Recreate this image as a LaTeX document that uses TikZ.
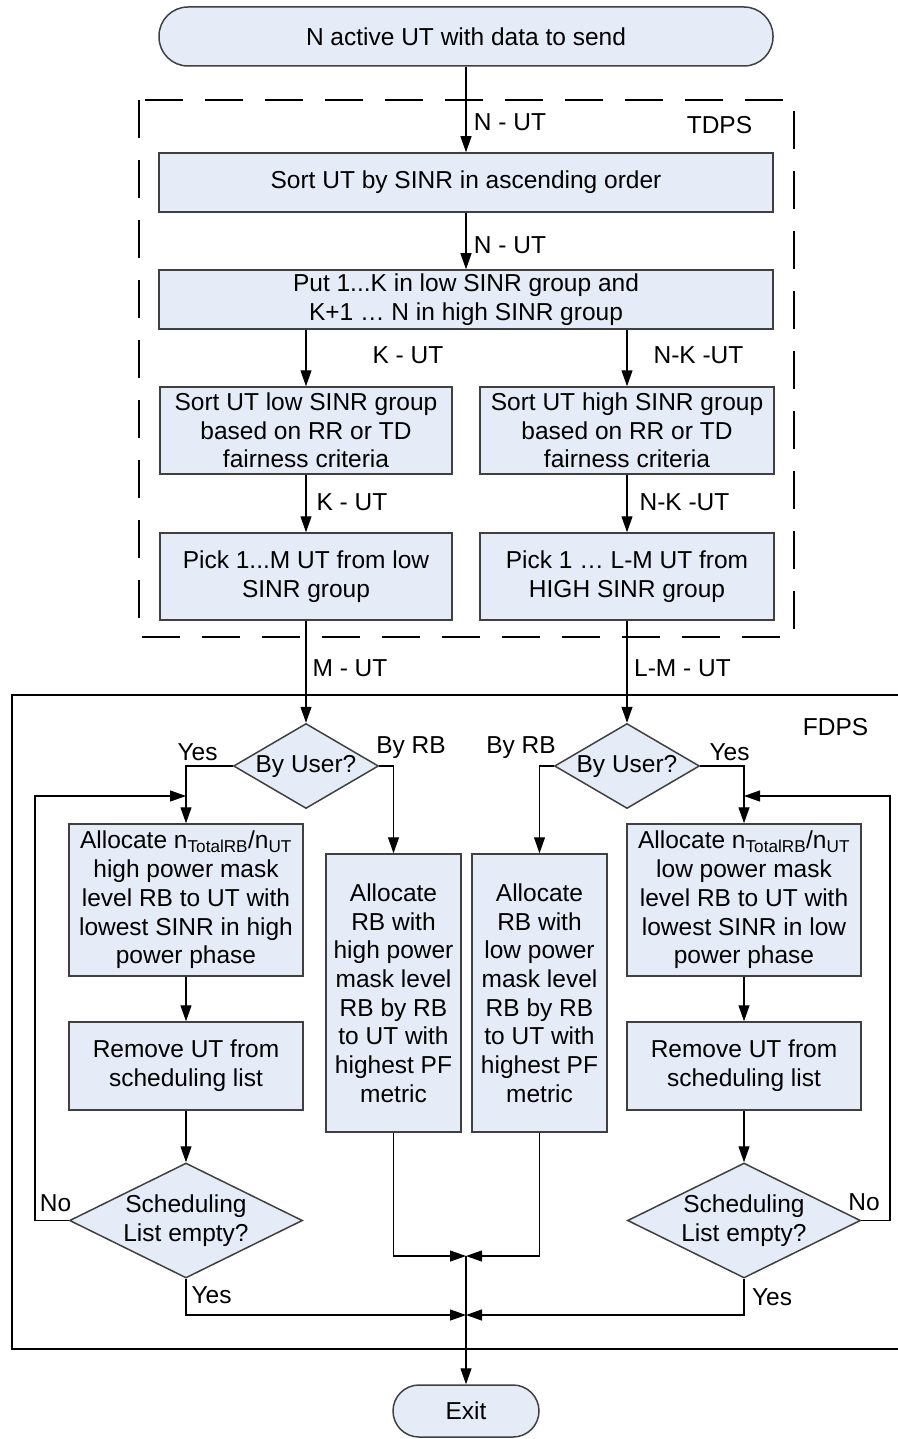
\documentclass[tikz,border=0pt]{standalone}
\usepackage{fontspec}
\setmainfont{Liberation Sans}
\usepackage{tikz}
\usetikzlibrary{shapes.geometric,arrows.meta}
\definecolor{boxfill}{RGB}{229,235,247}
\definecolor{boxline}{RGB}{64,64,64}
\newcommand{\chartfont}{\fontsize{24.5}{28.7}\selectfont}

\begin{document}
\begin{tikzpicture}[x=10pt,y=10pt]
            \tikzstyle{every node}+=[inner sep=0pt, font=\chartfont]
            \tikzstyle{procbox}=[draw=boxline, fill=boxfill, line width=1.5pt, align=center]
            \tikzstyle{decision}=[procbox, diamond]
            \tikzstyle{arr}=[-{Triangle[length=16pt,width=11pt]}, line width=1.2pt]
            \useasboundingbox (0,0) rectangle (89.7,-143.9);
            % frames
            \draw [black, dash pattern=on 38pt off 22pt, line width=2pt] (13.9,-10.0) rectangle (79.4,-63.7);
            \draw [black, line width=2pt] (90.5,-69.5) -| (1.2,-134.9) -- (90.5,-134.9);
            \node (tdpslbl) at (71.95,-12.5) {TDPS};
            \node (fdpslbl) at (83.55,-72.7) {FDPS};
            % TDPS
            \node [procbox, rounded corners=29pt, minimum width=614pt, minimum height=59pt] (start) at (46.6,-3.65) {N active UT with data to send};
            \node [procbox, minimum width=614pt, minimum height=59pt] (sortall) at (46.6,-18.25) {Sort UT by SINR in ascending order};
            \node [procbox, minimum width=614pt, minimum height=59pt] (split) at (46.6,-29.95) {Put 1...K in low SINR group and\\K+1 … N in high SINR group};
            \node [procbox, minimum width=292pt, minimum height=87pt] (sortlow) at (30.6,-43.05) {Sort UT low SINR group\\based on RR or TD\\fairness criteria};
            \node [procbox, minimum width=294pt, minimum height=87pt] (sorthigh) at (62.7,-43.05) {Sort UT high SINR group\\based on RR or TD\\fairness criteria};
            \node [procbox, minimum width=292pt, minimum height=87pt] (picklow) at (30.6,-57.65) {Pick 1...M UT from low\\SINR group};
            \node [procbox, minimum width=294pt, minimum height=87pt] (pickhigh) at (62.7,-57.65) {Pick 1 … L-M UT from\\HIGH SINR group};
            % FDPS
            \node [decision, aspect=1.7, minimum width=145pt, minimum height=85pt] (userlow) at (30.6,-76.6) {By User?};
            \node [decision, aspect=1.7, minimum width=145pt, minimum height=85pt] (userhigh) at (62.7,-76.6) {By User?};
            \node [procbox, minimum width=234pt, minimum height=152pt] (alloclow) at (18.6,-90.0) {Allocate n\textsubscript{TotalRB}/n\textsubscript{UT}\\high power mask\\level RB to UT with\\lowest SINR in high\\power phase};
            \node [procbox, minimum width=234pt, minimum height=152pt] (allochigh) at (74.4,-90.0) {Allocate n\textsubscript{TotalRB}/n\textsubscript{UT}\\low power mask\\level RB to UT with\\lowest SINR in low\\power phase};
            \node [procbox, minimum width=135pt, minimum height=278pt] (rblow) at (39.35,-99.3) {Allocate\\RB with\\high power\\mask level\\RB by RB\\to UT with\\highest PF\\metric};
            \node [procbox, minimum width=135pt, minimum height=278pt] (rbhigh) at (53.95,-99.3) {Allocate\\RB with\\low power\\mask level\\RB by RB\\to UT with\\highest PF\\metric};
            \node [procbox, minimum width=234pt, minimum height=88pt] (removelow) at (18.6,-106.6) {Remove UT from\\scheduling list};
            \node [procbox, minimum width=234pt, minimum height=88pt] (removehigh) at (74.4,-106.6) {Remove UT from\\scheduling list};
            \node [decision, aspect=2, minimum width=233pt, minimum height=115pt] (emptylow) at (18.6,-122.05) {Scheduling\\List empty?};
            \node [decision, aspect=2, minimum width=233pt, minimum height=115pt] (emptyhigh) at (74.4,-122.05) {Scheduling\\List empty?};
            \node [procbox, rounded corners=26pt, minimum width=146pt, minimum height=52pt] (exit) at (46.6,-141.1) {Exit};
            \coordinate (loopL) at (3.5,-79.6);
            \coordinate (loopR) at (89.0,-79.6);
            \coordinate (mergeA) at (46.6,-125.6);
            \coordinate (mergeB) at (46.6,-131.5);
            % connectors
            \draw [arr] (start) -- (sortall);
            \draw [arr] (sortall) -- (split);
            \draw [arr] (sortlow.north |- split.south) -- (sortlow);
            \draw [arr] (sorthigh.north |- split.south) -- (sorthigh);
            \draw [arr] (sortlow) -- (picklow);
            \draw [arr] (sorthigh) -- (pickhigh);
            \draw [arr] (picklow) -- (userlow);
            \draw [arr] (pickhigh) -- (userhigh);
            \draw [arr] (userlow.west) -| (alloclow.north);
            \draw [arr] (userlow.east) -| (rblow.north);
            \draw [arr] (userhigh.west) -| (rbhigh.north);
            \draw [arr] (userhigh.east) -| (allochigh.north);
            \draw [arr] (alloclow) -- (removelow);
            \draw [arr] (allochigh) -- (removehigh);
            \draw [arr] (removelow) -- (emptylow);
            \draw [arr] (removehigh) -- (emptyhigh);
            \draw [arr] (emptylow.west) -| (loopL) -- (loopL -| alloclow.north);
            \draw [arr] (emptyhigh.east) -| (loopR) -- (loopR -| allochigh.north);
            \draw [arr] (rblow.south) |- (mergeA);
            \draw [arr] (rbhigh.south) |- (mergeA);
            \draw [arr] (emptylow.south) |- (mergeB);
            \draw [arr] (emptyhigh.south) |- (mergeB);
            \draw [arr] (mergeA) -- (exit);
            % labels
            \node (lblN1) at (51.0,-12.2) {N - UT};
            \node (lblN2) at (51.0,-24.5) {N - UT};
            \node (lblK1) at (40.8,-35.5) {K - UT};
            \node (lblNK1) at (69.85,-35.5) {N-K -UT};
            \node (lblK2) at (35.2,-50.2) {K - UT};
            \node (lblNK2) at (68.45,-50.2) {N-K -UT};
            \node (lblM) at (35.0,-66.8) {M - UT};
            \node (lblLM) at (68.25,-66.8) {L-M - UT};
            \node (lblYes1) at (19.75,-75.2) {Yes};
            \node (lblRB1) at (41.1,-74.8) {By RB};
            \node (lblRB2) at (52.1,-74.8) {By RB};
            \node (lblYes2) at (72.95,-75.2) {Yes};
            \node (lblNo1) at (5.55,-120.3) {No};
            \node (lblNo2) at (86.4,-120.2) {No};
            \node (lblYes3) at (21.15,-129.5) {Yes};
            \node (lblYes4) at (77.2,-129.7) {Yes};
        \end{tikzpicture}
\end{document}
